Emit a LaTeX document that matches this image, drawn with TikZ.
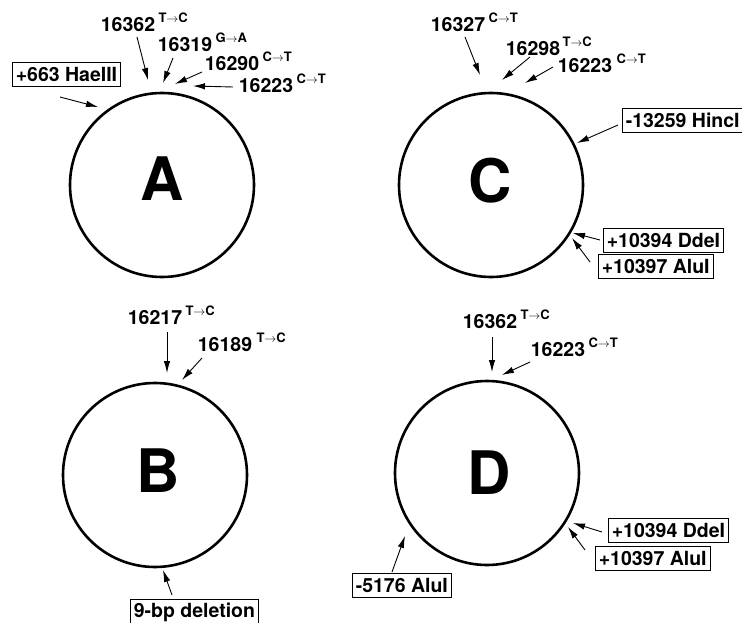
\documentclass[tikz,border=0pt]{standalone}
\usepackage{fontspec}
\setmainfont{TeX Gyre Heros}
\usetikzlibrary{arrows.meta,positioning}

\begin{document}
\begin{tikzpicture}[
  x=1pt, y=-1pt,
  num/.style={font=\fontsize{19.5}{21}\selectfont\bfseries, inner sep=0pt},
  sup/.style={font=\fontsize{13}{14}\selectfont\bfseries, inner sep=0pt},
  tag/.style={draw, line width=0.6pt, font=\fontsize{19.5}{21}\selectfont\bfseries,
              inner xsep=3.5pt, minimum height=24pt, anchor=west},
  ring/.style={draw, circle, line width=2.6pt, minimum size=184pt, inner sep=0pt},
  big/.style={font=\fontsize{60}{62}\selectfont\bfseries, inner sep=0pt},
  arr/.style={-{Latex[length=12pt,width=6.5pt]}, line width=0.9pt}
]
\useasboundingbox (0,0) rectangle (742,623);

% A
\node[ring] (cA) at (162,185) {};
\node[big] (lA) at (162,179) {A};
\node[num] (nA1) at (128,25) {16362};
\node[sup, right=3pt of nA1.north east] (sA1) {T\(\to\)C};
\node[num] (nA2) at (185,45) {16319};
\node[sup, right=3pt of nA2.north east] (sA2) {G\(\to\)A};
\node[num] (nA3) at (232,64) {16290};
\node[sup, right=3pt of nA3.north east] (sA3) {C\(\to\)T};
\node[num] (nA4) at (266,86) {16223};
\node[sup, right=3pt of nA4.north east] (sA4) {C\(\to\)T};
\node[tag] (bA1) at (12,74) {+663 HaeIII};
\coordinate (tA1) at (137,37); \coordinate (hA1) at (148,80);
\coordinate (tA2) at (173,58); \coordinate (hA2) at (163,83);
\coordinate (tA3) at (202,72); \coordinate (hA3) at (175,84);
\coordinate (tA4) at (233,87); \coordinate (hA4) at (193,86);
\coordinate (tA5) at (60,97);  \coordinate (hA5) at (98,107);
\draw[arr] (tA1) -- (hA1);
\draw[arr] (tA2) -- (hA2);
\draw[arr] (tA3) -- (hA3);
\draw[arr] (tA4) -- (hA4);
\draw[arr] (tA5) -- (hA5);

% C
\node[ring] (cC) at (491,185) {};
\node[big] (lC) at (490,181) {C};
\node[num] (nC1) at (458,25) {16327};
\node[sup, right=3pt of nC1.north east] (sC1) {C\(\to\)T};
\node[num] (nC2) at (533,49) {16298};
\node[sup, right=2pt of nC2.north east] (sC2) {T\(\to\)C};
\node[num] (nC3) at (585,66) {16223};
\node[sup, right=4pt of nC3.north east] (sC3) {C\(\to\)T};
\node[tag] (bC1) at (622,120) {-13259 HincI};
\node[tag] (bC2) at (603,240) {+10394 DdeI};
\node[tag] (bC3) at (598,266) {+10397 AluI};
\coordinate (tC1) at (465,37);  \coordinate (hC1) at (480,75);
\coordinate (tC2) at (530,57);  \coordinate (hC2) at (502,80);
\coordinate (tC3) at (553,67);  \coordinate (hC3) at (525,83);
\coordinate (tC4) at (618,125); \coordinate (hC4) at (577,143);
\coordinate (tC5) at (600,240); \coordinate (hC5) at (573,233);
\coordinate (tC6) at (590,262); \coordinate (hC6) at (572,238);
\draw[arr] (tC1) -- (hC1);
\draw[arr] (tC2) -- (hC2);
\draw[arr] (tC3) -- (hC3);
\draw[arr] (tC4) -- (hC4);
\draw[arr] (tC5) -- (hC5);
\draw[arr] (tC6) -- (hC6);

% B
\node[ring] (cB) at (155,475) {};
\node[big] (lB) at (158,471) {B};
\node[num] (nB1) at (155,318) {16217};
\node[sup, right=3pt of nB1.north east] (sB1) {T\(\to\)C};
\node[num] (nB2) at (225,345) {16189};
\node[sup, right=4pt of nB2.north east] (sB2) {T\(\to\)C};
\node[tag] (bB1) at (130,612) {9-bp deletion};
\coordinate (tB1) at (167,332); \coordinate (hB1) at (167,373);
\coordinate (tB2) at (202,358); \coordinate (hB2) at (182,380);
\coordinate (tB3) at (172,595); \coordinate (hB3) at (163,570);
\draw[arr] (tB1) -- (hB1);
\draw[arr] (tB2) -- (hB2);
\draw[arr] (tB3) -- (hB3);

% D
\node[ring] (cD) at (487,473) {};
\node[big] (lD) at (489,473) {D};
\node[num] (nD1) at (490,322) {16362};
\node[sup, right=3pt of nD1.north east] (sD1) {T\(\to\)C};
\node[num] (nD2) at (558,350) {16223};
\node[sup, right=3pt of nD2.north east] (sD2) {C\(\to\)T};
\node[tag] (bD1) at (608,530) {+10394 DdeI};
\node[tag] (bD2) at (595,558) {+10397 AluI};
\node[tag] (bD3) at (352,585) {-5176 AluI};
\coordinate (tD1) at (492,337); \coordinate (hD1) at (492,372);
\coordinate (tD2) at (530,362); \coordinate (hD2) at (502,375);
\coordinate (tD3) at (602,532); \coordinate (hD3) at (573,523);
\coordinate (tD4) at (585,550); \coordinate (hD4) at (568,527);
\coordinate (tD5) at (392,572); \coordinate (hD5) at (405,536);
\draw[arr] (tD1) -- (hD1);
\draw[arr] (tD2) -- (hD2);
\draw[arr] (tD3) -- (hD3);
\draw[arr] (tD4) -- (hD4);
\draw[arr] (tD5) -- (hD5);
\end{tikzpicture}
\end{document}
